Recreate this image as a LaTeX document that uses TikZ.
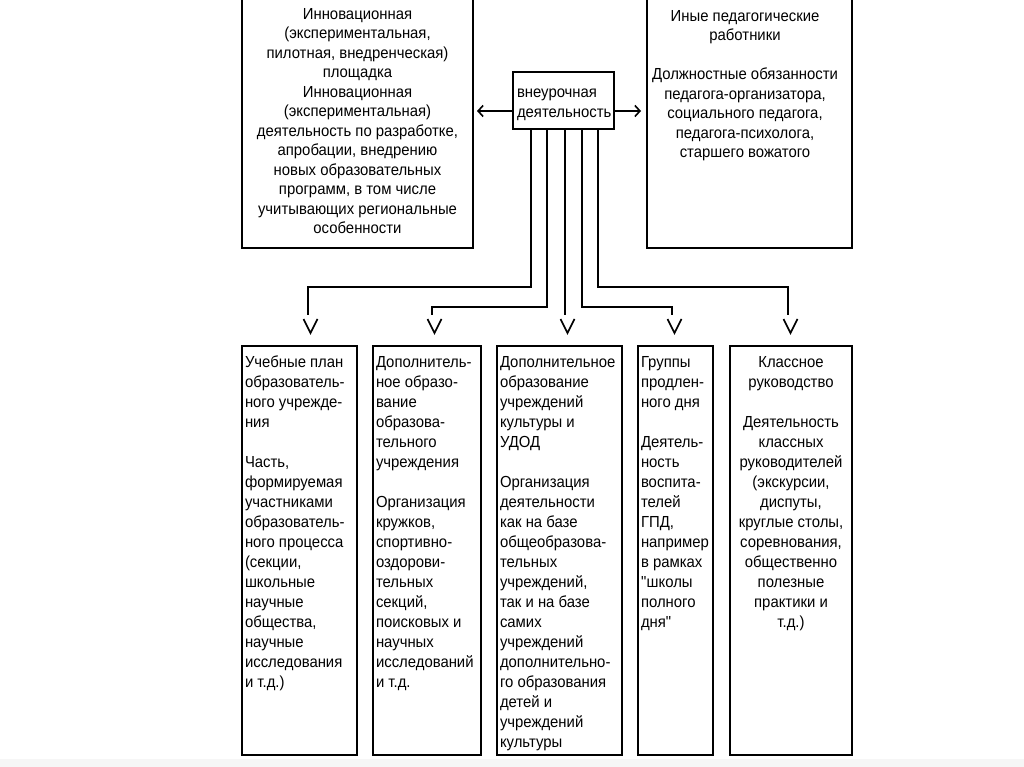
\documentclass[tikz,border=0pt]{standalone}
\usepackage{fontspec}
\setmainfont{Liberation Sans}[FakeStretch=0.93]
\usetikzlibrary{arrows.meta}
\begin{document}
\begin{tikzpicture}[x=1pt,y=-1pt,
  every node/.style={inner sep=0pt, outer sep=0pt},
  box/.style={draw, line width=1.6pt, anchor=north west},
  txt/.style={font=\fontsize{16}{20}\selectfont},
  ttxt/.style={font=\fontsize{16}{19.5}\selectfont},
  conn/.style={line width=1.6pt},
  vtip/.style={line width=1.6pt},
  tip/.style={-{Straight Barb[length=5pt,width=11pt]}}]
\useasboundingbox (0,0) rectangle (1024,767);
\clip (0,0) rectangle (1024,767);
\fill[gray!7] (0,759) rectangle (1024,767);

% top boxes
\node[box, minimum width=231, minimum height=253] (tl) at (242,-5) {};
\node[ttxt, anchor=north, align=center] (tlt) at (357.5,5.5) {\strut Инновационная\\(экспериментальная,\\пилотная, внедренческая)\\площадка\\Инновационная\\(экспериментальная)\\деятельность по разработке,\\апробации, внедрению\\новых образовательных\\программ, в том числе\\учитывающих региональные\\особенности};

\node[box, minimum width=205, minimum height=253] (tr) at (647,-5) {};
\node[ttxt, anchor=north, align=center] (trt) at (745,7.5) {\strut Иные педагогические\\работники\\[19.5pt]Должностные обязанности\\педагога-организатора,\\социального педагога,\\педагога-психолога,\\старшего вожатого};

% centre box
\node[box, minimum width=101, minimum height=57] (cb) at (513,72) {};
\node[ttxt, anchor=north west, align=left] (cbt) at (517,84) {\strut внеурочная\\деятельность};

% side arrows
\coordinate (al) at (477,111);
\coordinate (ar) at (641,111);
\draw[conn,tip] ([yshift=-10.5pt]cb.west) -- (al);
\draw[conn,tip] ([yshift=-10.5pt]cb.east) -- (ar);

% bottom boxes
\node[box, minimum width=115, minimum height=409] (b1) at (242,346) {};
\node[box, minimum width=108, minimum height=409] (b2) at (373,346) {};
\node[box, minimum width=125, minimum height=409] (b3) at (497,346) {};
\node[box, minimum width=75, minimum height=409] (b4) at (638,346) {};
\node[box, minimum width=122, minimum height=409] (b5) at (730,346) {};

\node[txt, anchor=north west, align=left] (t1) at (245,353.5) {\strut Учебные план\\образователь-\\ного учрежде-\\ния\\[20pt]Часть,\\формируемая\\участниками\\образователь-\\ного процесса\\(секции,\\школьные\\научные\\общества,\\научные\\исследования\\и т.д.)};
\node[txt, anchor=north west, align=left] (t2) at (376,353.5) {\strut Дополнитель-\\ное образо-\\вание\\образова-\\тельного\\учреждения\\[20pt]Организация\\кружков,\\спортивно-\\оздорови-\\тельных\\секций,\\поисковых и\\научных\\исследований\\и т.д.};
\node[txt, anchor=north west, align=left] (t3) at (500,353.5) {\strut Дополнительное\\образование\\учреждений\\культуры и\\УДОД\\[20pt]Организация\\деятельности\\как на базе\\общеобразова-\\тельных\\учреждений,\\так и на базе\\самих\\учреждений\\дополнительно-\\го образования\\детей и\\учреждений\\культуры};
\node[txt, anchor=north west, align=left] (t4) at (641,353.5) {\strut Группы\\продлен-\\ного дня\\[20pt]Деятель-\\ность\\воспита-\\телей\\ГПД,\\например\\в рамках\\\textquotedbl школы\\полного\\дня\textquotedbl};
\node[txt, anchor=north, align=center] (t5) at (791,353.5) {\strut Классное\\руководство\\[20pt]Деятельность\\классных\\руководителей\\(экскурсии,\\диспуты,\\круглые столы,\\соревнования,\\общественно\\полезные\\практики и\\т.д.)};

% connectors
\coordinate (e1) at (308,315);
\coordinate (e2) at (432,315);
\coordinate (e3) at (565,315);
\coordinate (e4) at (672,315);
\coordinate (e5) at (788,315);
\draw[conn] ([xshift=18pt]cb.south west) |- ([yshift=28pt]e1) -- (e1);
\draw[conn] ([xshift=34pt]cb.south west) |- ([yshift=8pt]e2) -- (e2);
\draw[conn] ([xshift=52pt]cb.south west) -- (e3);
\draw[conn] ([xshift=69pt]cb.south west) |- ([yshift=8pt]e4) -- (e4);
\draw[conn] ([xshift=85pt]cb.south west) |- ([yshift=28pt]e5) -- (e5);
\foreach \e in {e1,e2,e3,e4,e5}
  \draw[vtip] ([xshift=-4.5pt,yshift=-4pt]\e) -- ([xshift=2.5pt,yshift=-18pt]\e) -- ([xshift=9.5pt,yshift=-4pt]\e);
\end{tikzpicture}
\end{document}
